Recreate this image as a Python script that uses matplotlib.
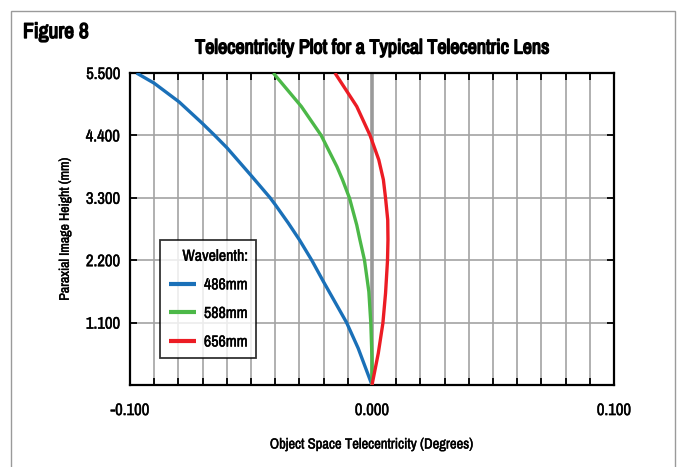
import numpy as np
import matplotlib.pyplot as plt
import matplotlib.patheffects as pe
from matplotlib import font_manager
from matplotlib.patches import Rectangle
from matplotlib.ticker import FuncFormatter

# pick a narrow sans if one is installed
narrow = [f.name for f in font_manager.fontManager.ttflist
          if f.stretch in ('condensed', 'semi-condensed', 'extra-condensed', 600, 500)
          or 'Narrow' in f.name or 'Condensed' in f.name]
families = (['Liberation Sans Narrow'] if 'Liberation Sans Narrow' in narrow else []) + \
    sorted(set(narrow)) + ['DejaVu Sans']
plt.rcParams['font.family'] = families
plt.rcParams['font.stretch'] = 'condensed'

# telecentricity (degrees) against paraxial image height (mm), per wavelength
h_486 = [0.0, 0.647, 1.1, 1.41, 1.825, 2.2, 2.56, 2.855, 3.18, 3.3, 3.69,
         4.18, 4.4, 4.62, 4.99, 5.32, 5.5]
tel_486 = [0.0, -0.0057, -0.0105, -0.0146, -0.0201, -0.0249, -0.03, -0.0346,
           -0.04, -0.0421, -0.0499, -0.0599, -0.065, -0.0703, -0.0797, -0.09, -0.0973]

h_588 = [0.0, 0.47, 1.1, 1.645, 2.2, 2.56, 2.82, 3.295, 3.62, 3.85, 4.4, 4.91, 5.5]
tel_588 = [0.0, 0.0, -0.0005, -0.0013, -0.0031, -0.005, -0.0063, -0.0093, -0.0122,
           -0.0145, -0.021, -0.0292, -0.0408]

h_656 = [0.0, 0.56, 1.09, 1.62, 2.19, 2.56, 2.91, 3.295, 3.62, 3.97, 4.4, 4.91, 5.5]
tel_656 = [0.0, 0.0026, 0.0045, 0.0056, 0.0064, 0.0066, 0.0065, 0.0056, 0.0047, 0.0028,
           -0.0008, -0.0063, -0.0153]

series = [
    (tel_486, h_486, '486mm', '#1a70b8'),
    (tel_588, h_588, '588mm', '#4cb848'),
    (tel_656, h_656, '656mm', '#ec1c24'),
]

heavy = [pe.withStroke(linewidth=1.0, foreground='black')]
medium = [pe.withStroke(linewidth=0.3, foreground='black')]

fig = plt.figure(figsize=(6.87, 4.67), dpi=100)
ax = fig.add_axes([130 / 687, 1 - 385 / 467, 484 / 687, 312 / 467])

# outer frame, open at the bottom
fig.patches.append(Rectangle((11 / 687, -0.05), 664 / 687, 1.05 - 11 / 467,
                             transform=fig.transFigure, fill=False,
                             edgecolor='#9a9a9a', linewidth=1.0))

for vals, hts, label, color in series:
    ax.plot(vals, hts, color=color, linewidth=2.4, label=label,
            solid_capstyle='butt', solid_joinstyle='round', zorder=3)

ax.set_xlim(-0.1, 0.1)
ax.set_ylim(0, 5.5)


def xfmt(v, p):
    if abs(v) < 1e-9:
        return '0.000'
    if abs(abs(v) - 0.1) < 1e-6:
        return f'{v:.3f}'
    return ''


ax.set_xticks(np.round(np.arange(-0.1, 0.1001, 0.01), 3))
ax.xaxis.set_major_formatter(FuncFormatter(xfmt))
ax.set_yticks([1.1, 2.2, 3.3, 4.4, 5.5])
ax.yaxis.set_major_formatter(FuncFormatter(lambda v, p: f'{v:.3f}'))

ax.grid(True, color='#a3a3a3', linewidth=1.2, zorder=1)
ax.axvline(0, color='#9a9a9a', linewidth=2.6, zorder=2)
ax.set_axisbelow(True)

ax.tick_params(direction='in', length=5, width=1.3, color='black',
               top=True, right=True, labelsize=12, pad=7)
ax.tick_params(axis='x', pad=13)
for s in ax.spines.values():
    s.set_linewidth(1.6)
for t in ax.get_xticklabels() + ax.get_yticklabels():
    t.set_path_effects(medium)

fig.text(23 / 687, 1 - 32 / 467, 'Figure 8', fontsize=15.5, fontweight='bold',
         va='center', ha='left', path_effects=heavy)
fig.text(372 / 687, 1 - 48 / 467, 'Telecentricity Plot for a Typical Telecentric Lens',
         fontsize=14.5, fontweight='bold', va='center', ha='center', path_effects=heavy)
ax.set_xlabel('Object Space Telecentricity (Degrees)', fontsize=10.5, labelpad=14,
              path_effects=medium)
ax.set_ylabel('Paraxial Image Height (mm)', fontsize=10, labelpad=10,
              path_effects=medium)

leg = ax.legend(title='Wavelenth:', loc='upper left',
                bbox_to_anchor=(30 / 484, 1 - 167 / 312), borderaxespad=0,
                frameon=True, fancybox=False, edgecolor='black', fontsize=11.5,
                title_fontsize=11.5, handlelength=1.7, handletextpad=0.5,
                borderpad=0.55, labelspacing=0.85)
leg.get_frame().set_linewidth(1.3)
leg._legend_box.align = 'right'
leg.get_title().set_path_effects(medium)
for t in leg.get_texts():
    t.set_path_effects(medium)
for ln in leg.get_lines():
    ln.set_linewidth(3)

fig.savefig('out.png', dpi=100)
